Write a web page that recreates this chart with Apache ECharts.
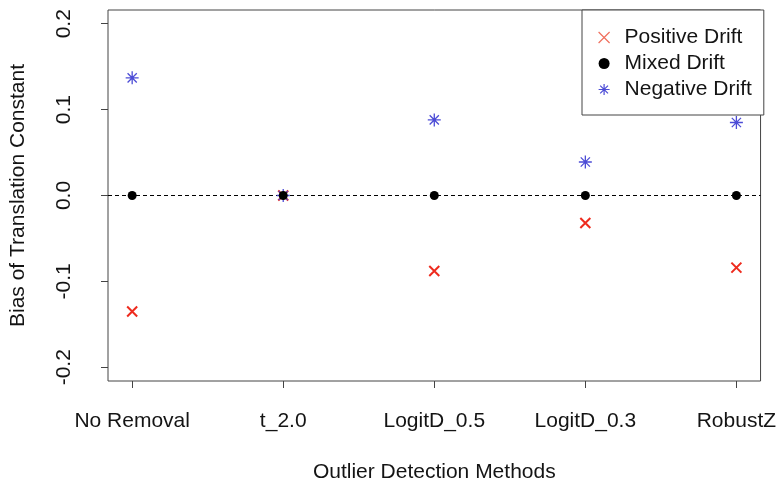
<!DOCTYPE html>
<html>
<head>
<meta charset="utf-8">
<script src="https://cdn.jsdelivr.net/npm/echarts@6/dist/echarts.min.js"></script>
<style>
  html, body { margin: 0; padding: 0; background: #fff; }
  #chart { width: 779px; height: 488px; }
</style>
</head>
<body>
<div id="chart"></div>
<script>
// Outlier detection methods on the x axis (positions 1..5)
const methods = ['No Removal', 't_2.0', 'LogitD_0.5', 'LogitD_0.3', 'RobustZ'];

// Bias of the translation constant for each drift scenario
const positiveDrift = [-0.135, 0.0, -0.088, -0.032, -0.084];
const mixedDrift    = [0.0, 0.0, 0.0, 0.0, 0.0];
const negativeDrift = [0.137, 0.0, 0.088, 0.039, 0.085];

// Tick values
const yTicks = [-0.2, -0.1, 0.0, 0.1, 0.2];
const xTicks = [1, 2, 3, 4, 5];

const FONT = 'Liberation Sans, Arial, sans-serif';
const TEXT = '#141414';
const AXIS = '#444';
const RED = '#ee2b1e';
const BLUE = '#4c4cd6';

const crossPath = 'path://M0,0L10,10M10,0L0,10';
const starPath = 'path://M5,0L5,10M0,5L10,5M1.46,1.46L8.54,8.54M8.54,1.46L1.46,8.54';

const pts = vals => vals.map((v, i) => [xTicks[i], v]);

const chart = echarts.init(document.getElementById('chart'), null, { renderer: 'canvas' });

chart.setOption({
  animation: false,
  backgroundColor: '#fff',
  textStyle: { fontFamily: FONT },
  grid: {
    left: 106, right: 17, top: 10, bottom: 105,
    show: true, borderColor: AXIS, borderWidth: 1, backgroundColor: 'transparent'
  },
  legend: {
    orient: 'vertical',
    left: 582, top: 10,
    width: 180,
    padding: [17, 12, 15, 16],
    itemGap: 5,
    itemWidth: 11, itemHeight: 11,
    borderColor: AXIS, borderWidth: 1,
    backgroundColor: '#fff',
    textStyle: { fontFamily: FONT, fontSize: 21, color: TEXT, lineHeight: 20, padding: [0, 0, 0, 10] },
    data: [
      { name: 'Positive Drift', icon: crossPath, itemStyle: { color: 'transparent', borderColor: '#f0705e', borderWidth: 1.2, opacity: 1 } },
      { name: 'Mixed Drift', icon: 'circle', itemStyle: { color: '#000', borderWidth: 0, opacity: 1 } },
      { name: 'Negative Drift', icon: starPath, itemStyle: { color: 'transparent', borderColor: BLUE, borderWidth: 1.2, opacity: 1 } }
    ]
  },
  xAxis: {
    type: 'value',
    min: 0.84, max: 5.16,
    name: 'Outlier Detection Methods',
    nameLocation: 'middle',
    nameGap: 81,
    nameTextStyle: { fontFamily: FONT, fontSize: 21, color: TEXT, verticalAlign: 'top' },
    axisLine: { show: false, onZero: false },
    splitLine: { show: false },
    axisTick: { show: true, customValues: xTicks, length: 7, lineStyle: { color: AXIS, width: 1 } },
    axisLabel: {
      customValues: xTicks,
      margin: 30,
      fontFamily: FONT, fontSize: 21, color: TEXT,
      formatter: v => methods[Math.round(v) - 1] || ''
    }
  },
  yAxis: {
    type: 'value',
    min: -0.216, max: 0.216,
    name: 'Bias of Translation Constant',
    nameLocation: 'middle',
    nameGap: 79,
    nameRotate: 90,
    nameTextStyle: { fontFamily: FONT, fontSize: 21, color: TEXT },
    axisLine: { show: false, onZero: false },
    splitLine: { show: false },
    axisTick: { show: true, customValues: yTicks, length: 7, lineStyle: { color: AXIS, width: 1 } },
    axisLabel: {
      customValues: yTicks,
      rotate: 90,
      margin: 33,
      fontFamily: FONT, fontSize: 21, color: TEXT,
      formatter: v => v.toFixed(1)
    }
  },
  series: [
    {
      name: 'Positive Drift',
      type: 'scatter',
      symbol: crossPath,
      symbolSize: 10,
      itemStyle: { color: 'transparent', borderColor: RED, borderWidth: 2, opacity: 1 },
      data: pts(positiveDrift),
      z: 3
    },
    {
      name: 'Negative Drift',
      type: 'scatter',
      symbol: starPath,
      symbolSize: 13,
      itemStyle: { color: 'transparent', borderColor: BLUE, borderWidth: 1.3, opacity: 1 },
      data: pts(negativeDrift),
      z: 3
    },
    {
      name: 'Mixed Drift',
      type: 'scatter',
      symbol: 'circle',
      symbolSize: 9,
      itemStyle: { color: '#000', opacity: 1 },
      data: pts(mixedDrift),
      z: 4,
      markLine: {
        silent: true,
        symbol: 'none',
        label: { show: false },
        lineStyle: { color: '#000', type: [4, 3], width: 1, opacity: 1 },
        data: [{ yAxis: 0 }],
        z: 2
      }
    }
  ]
});
</script>
</body>
</html>
